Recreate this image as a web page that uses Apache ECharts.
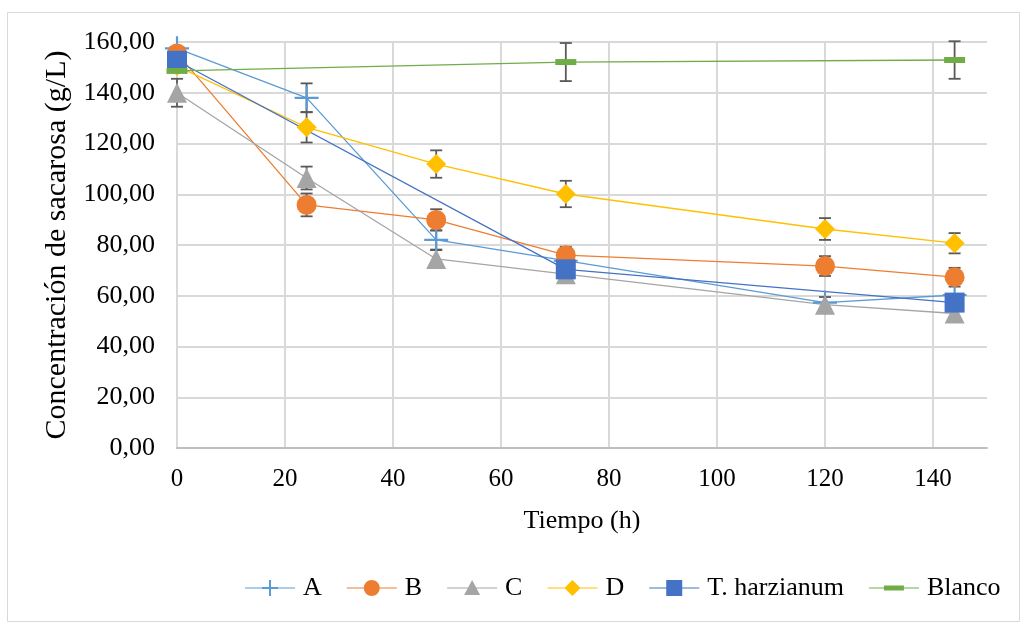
<!DOCTYPE html>
<html><head><meta charset="utf-8">
<script src="https://cdn.jsdelivr.net/npm/echarts@6/dist/echarts.min.js"></script>
<style>html,body{margin:0;padding:0;background:#fff}#c{width:1024px;height:624px}</style>
</head><body><div id="c"></div>
<script>
var times = [0, 24, 48, 72, 120, 144];
var seriesNames = ['A', 'B', 'C', 'D', 'T. harzianum', 'Blanco'];
var valA = [157.5, 138, 82, 73.8, 57.3, 60.3];
var errA = [0, 5.7, 3.8, 0, 0, 0];
var valB = [155.5, 95.8, 89.9, 76, 71.7, 67.3];
var errB = [0, 4.5, 4.2, 3.3, 3.9, 3.7];
var valC = [140, 106.4, 74.5, 68.5, 56.5, 53];
var errC = [5.5, 4.5, 3.5, 0, 3, 0];
var valD = [150.5, 126.4, 111.9, 100.1, 86.3, 80.7];
var errD = [0, 6, 5.4, 5.2, 4.3, 4];
var timesT = [0, 72, 144];
var valT = [152.6, 70.4, 57.3];
var timesBl = [0, 72, 144];
var valBl = [148.6, 152.1, 152.9];
var errBl = [0, 7.5, 7.4];

var colors = ['#5B9BD5', '#ED7D31', '#A5A5A5', '#FFC000', '#4472C4', '#70AD47'];
var FONT = 'Liberation Serif';

function pairs(xs, ys) { return xs.map(function (x, i) { return [x, ys[i]]; }); }
function errPairs(xs, ys, es) { return xs.map(function (x, i) { return [x, ys[i], es[i]]; }); }

var plusPath = 'path://M-1.1,-12 L1.1,-12 L1.1,-1.1 L12,-1.1 L12,1.1 L1.1,1.1 L1.1,12 L-1.1,12 L-1.1,1.1 L-12,1.1 L-12,-1.1 L-1.1,-1.1 Z';

// legend icons (50 x 20 box): bounding dots + line + marker
var box = 'M0,0 L0.01,0 L0,0.01 Z M50,20 L49.99,20 L50,19.99 Z ';
var ln = 'M0,9.4 H50 V10.6 H0 Z ';
var legendIcons = [
  'path://' + box + ln + 'M24,2 H26 V9 H33 V11 H26 V18 H24 V11 H17 V9 H24 Z',
  'path://' + box + ln + 'M25,2 A8,8 0 1,1 24.99,2 Z',
  'path://' + box + ln + 'M25,2 L33,17 L17,17 Z',
  'path://' + box + ln + 'M25,2 L33,10 L25,18 L17,10 Z',
  'path://' + box + ln + 'M17,2 H33 V18 H17 Z',
  'path://' + box + ln + 'M15,7.5 H35 V12.5 H15 Z'
];

function lineSeries(name, data, color, symbol, size) {
  return {
    name: name, type: 'line', data: data, symbol: symbol, symbolSize: size,
    showAllSymbol: true, z: 3,
    lineStyle: { color: color, width: 1.3 },
    itemStyle: { color: color },
    emphasis: { disabled: true }, animation: false
  };
}

function errSeries(data) {
  return {
    type: 'custom', data: data, z: 2, silent: true, animation: false,
    renderItem: function (params, api) {
      var x = api.value(0), y = api.value(1), e = api.value(2);
      if (!e) return null;
      var t = api.coord([x, y + e]), b = api.coord([x, y - e]);
      var w = 6;
      var st = { stroke: '#595959', lineWidth: 1.8 };
      return { type: 'group', children: [
        { type: 'line', shape: { x1: t[0], y1: t[1], x2: b[0], y2: b[1] }, style: st },
        { type: 'line', shape: { x1: t[0] - w, y1: t[1], x2: t[0] + w, y2: t[1] }, style: st },
        { type: 'line', shape: { x1: b[0] - w, y1: b[1], x2: b[0] + w, y2: b[1] }, style: st }
      ]};
    }
  };
}

var chart = echarts.init(document.getElementById('c'), null, { renderer: 'canvas' });
chart.setOption({
  animation: false,
  color: colors,
  textStyle: { fontFamily: FONT },
  graphic: [{ type: 'rect', shape: { x: 7.5, y: 12.5, width: 1012, height: 609 },
    style: { fill: 'none', stroke: '#d9d9d9', lineWidth: 1 }, silent: true, z: -10 }],
  grid: { left: 177, right: 37, top: 42, bottom: 176, containLabel: false },
  legend: {
    bottom: 23, left: 245, padding: 0, itemWidth: 50, itemHeight: 20, itemGap: 25,
    textStyle: { fontFamily: FONT, fontSize: 26, color: '#000', padding: [0, 0, 0, 3] },
    data: seriesNames.map(function (n, i) { return { name: n, icon: legendIcons[i] }; })
  },
  xAxis: {
    type: 'value', min: 0, max: 150, interval: 20,
    name: 'Tiempo (h)', nameLocation: 'middle', nameGap: 60,
    nameTextStyle: { fontFamily: FONT, fontSize: 26, color: '#000' },
    axisLine: { show: true, lineStyle: { color: '#bfbfbf', width: 2 } },
    axisTick: { show: false },
    axisLabel: { fontFamily: FONT, fontSize: 25, color: '#000', margin: 19, showMaxLabel: false },
    splitLine: { show: true, showMaxLine: false, lineStyle: { color: '#d9d9d9', width: 2 } }
  },
  yAxis: {
    type: 'value', min: 0, max: 160, interval: 20,
    name: 'Concentración de sacarosa (g/L)', nameLocation: 'middle', nameGap: 101,
    nameTextStyle: { fontFamily: FONT, fontSize: 30, color: '#000' },
    axisLine: { show: true, lineStyle: { color: '#d9d9d9', width: 2 } },
    axisTick: { show: false },
    axisLabel: { fontFamily: FONT, fontSize: 26, color: '#000', margin: 22,
      formatter: function (v) { return v.toFixed(2).replace('.', ','); } },
    splitLine: { show: true, lineStyle: { color: '#d9d9d9', width: 2 } }
  },
  series: [
    errSeries(errPairs(times, valA, errA)),
    errSeries(errPairs(times, valB, errB)),
    errSeries(errPairs(times, valC, errC)),
    errSeries(errPairs(times, valD, errD)),
    errSeries(errPairs(timesBl, valBl, errBl)),
    lineSeries('A', pairs(times, valA), colors[0], plusPath, 24),
    lineSeries('B', pairs(times, valB), colors[1], 'circle', 20),
    lineSeries('C', pairs(times, valC), colors[2], 'triangle', 20),
    lineSeries('D', pairs(times, valD), colors[3], 'diamond', 20),
    lineSeries('T. harzianum', pairs(timesT, valT), colors[4], 'rect', 20),
    lineSeries('Blanco', pairs(timesBl, valBl), colors[5], 'rect', [21, 6])
  ]
});
</script></body></html>
